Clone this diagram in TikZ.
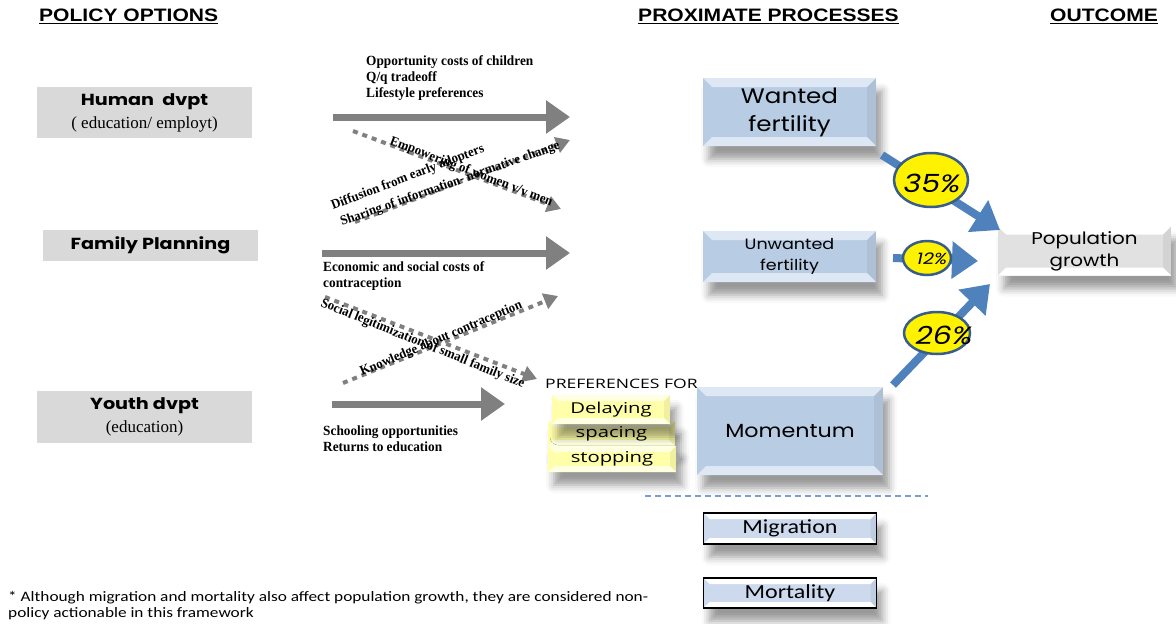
\documentclass[tikz,border=0pt]{standalone}
\usepackage{fontspec}
\setmainfont{Liberation Serif}
\newfontfamily\headfont[FakeStretch=1.17]{Liberation Sans}
\newfontfamily\dispfont[FakeStretch=1.2]{Poppins}
\newfontfamily\condfont[FakeStretch=0.95]{Liberation Serif}
\newfontfamily\gothfont[FakeStretch=1.17]{Poppins}
\newfontfamily\calfont[FakeStretch=1.2]{Carlito}
\newfontfamily\prefont[FakeStretch=1.35]{Open Sans}
\usetikzlibrary{arrows.meta,shapes.geometric,shadows.blur}

\definecolor{polgray}{RGB}{217,217,217}
\definecolor{arrgray}{RGB}{128,128,128}
\definecolor{procblue}{RGB}{184,204,228}
\definecolor{proclight}{RGB}{222,232,245}
\definecolor{migrblue}{RGB}{205,218,238}
\definecolor{growthgray}{RGB}{225,225,225}
\definecolor{arrblue}{RGB}{79,129,189}
\definecolor{pctborder}{RGB}{56,93,138}
\definecolor{prefyellow}{RGB}{255,255,170}
\definecolor{preflight}{RGB}{255,255,225}
\definecolor{dashblue}{RGB}{120,160,210}

\tikzset{
  heading/.style={font=\headfont\bfseries\fontsize{18}{20}\selectfont, anchor=west, inner sep=0pt},
  polbox/.style={fill=polgray, inner sep=0pt, align=center, minimum width=215pt},
  poltitle/.style={font=\dispfont\bfseries\fontsize{16}{18}\selectfont},
  lbl/.style={font=\condfont\bfseries\fontsize{14}{16}\selectfont, align=left, anchor=north west, inner sep=0pt},
  slant/.style={font=\condfont\bfseries\fontsize{13.5}{15}\selectfont, anchor=base west, inner sep=0pt},
  polarrow/.style={draw=arrgray, line width=7pt, -{Triangle[length=24pt,width=32pt]}},
  linkarrow/.style={draw=arrgray, line width=4pt, dash pattern=on 5pt off 5pt, -{Triangle[length=14pt,width=16pt]}},
  pctarrow/.style={draw=arrblue, line width=8pt, -{Triangle[length=26pt,width=36pt]}},
  bevel/.style n args={3}{fill=#1, path picture={
      \fill[#2] (path picture bounding box.north west) -- (path picture bounding box.north east)
        -- ([shift={(-#3,-#3)}]path picture bounding box.north east)
        -- ([shift={(#3,-#3)}]path picture bounding box.north west) -- cycle;
      \fill[#2] (path picture bounding box.south west) -- (path picture bounding box.south east)
        -- ([shift={(-#3,#3)}]path picture bounding box.south east)
        -- ([shift={(#3,#3)}]path picture bounding box.south west) -- cycle;
      \fill[black, opacity=.06] (path picture bounding box.north east) -- (path picture bounding box.south east)
        -- ([shift={(-#3,#3)}]path picture bounding box.south east)
        -- ([shift={(-#3,-#3)}]path picture bounding box.north east) -- cycle;
  }},
  softshadow/.style={blur shadow={shadow xshift=6pt, shadow yshift=-13pt, shadow blur radius=8pt, shadow opacity=40}},
  procbox/.style={bevel={procblue}{proclight}{9pt}, softshadow, inner sep=0pt, align=center},
  prefbox/.style={bevel={prefyellow}{preflight}{6pt}, softshadow, inner sep=0pt,
    font=\prefont\fontsize{15}{17}\selectfont},
  pct/.style={ellipse, fill=yellow, draw=pctborder, line width=2.5pt, inner sep=0pt},
  pcttext/.style={font=\dispfont\itshape\fontsize{25}{27}\selectfont, inner sep=0pt},
  sepline/.style={draw=dashblue, line width=1.3pt, dash pattern=on 6pt off 4pt},
}

\begin{document}
\begin{tikzpicture}[x=1pt,y=-1pt]
  \useasboundingbox (0,0) rectangle (1176,624);

  \node[heading] (h-pol) at (39,16) {\underline{POLICY OPTIONS}};
  \node[heading] (h-prox) at (638,16) {\underline{PROXIMATE PROCESSES}};
  \node[heading] (h-out) at (1050,16) {\underline{OUTCOME}};

  % policy options
  \node[polbox, minimum height=51pt] (human) at (144.5,112.5)
    {{\dispfont\bfseries\fontsize{16}{18}\selectfont Human\ \ dvpt}\\[6pt]
     {\fontsize{17}{18}\selectfont( education/ employt)}};
  \node[polbox, minimum height=31pt, poltitle] (family) at (150.5,245.5) {Family Planning};
  \node[polbox, minimum height=52pt] (youth) at (144.5,417)
    {{\dispfont\bfseries\fontsize{16}{18}\selectfont Youth dvpt}\\[6pt]
     {\fontsize{17}{18}\selectfont(education)}};

  \coordinate (human-s) at (333,117);
  \coordinate (human-e) at (570,117);
  \coordinate (family-s) at (322,253);
  \coordinate (family-e) at (570,253);
  \coordinate (youth-s) at (332,404);
  \coordinate (youth-e) at (505,404);
  \draw[polarrow] (human-s) -- (human-e);
  \draw[polarrow] (family-s) -- (family-e);
  \draw[polarrow] (youth-s) -- (youth-e);

  \node[lbl] (opp) at (366,55) {Opportunity costs of children\\Q/q tradeoff\\Lifestyle preferences};
  \node[lbl] (econ) at (323,261) {Economic and social costs of\\contraception};
  \node[lbl] (school) at (323,426) {Schooling opportunities\\Returns to education};

  % crossing links
  \coordinate (empow-s) at (353,131);
  \coordinate (empow-e) at (561,209);
  \coordinate (diff-s) at (355,222);
  \coordinate (diff-e) at (570,140);
  \coordinate (legit-s) at (325,297);
  \coordinate (legit-e) at (537,379);
  \coordinate (know-s) at (343,383);
  \coordinate (know-e) at (558,296);
  \draw[linkarrow] (empow-s) -- (empow-e);
  \draw[linkarrow] (diff-s) -- (diff-e);
  \draw[linkarrow] (legit-s) -- (legit-e);
  \draw[linkarrow] (know-s) -- (know-e);

  \node[slant, rotate=-21] (empow) at (389,144) {Empowering of women v/v men};
  \node[slant, rotate=21] (diff) at (333,210) {Diffusion from early adopters};
  \node[slant, rotate=19.5] (share) at (342,226) {Sharing of information- normative change};
  \node[slant, rotate=-22] (legit) at (320,306) {Social legitimization of small family size};
  \node[slant, rotate=23] (know) at (362,376) {Knowledge about contraception};

  % proximate processes
  \node[anchor=west, inner sep=0pt, font=\prefont\fontsize{13}{15}\selectfont] (pref) at (545,384) {PREFERENCES FOR};
  \node[prefbox, minimum width=127pt, minimum height=25pt] (space) at (611.5,433.5) {spacing};
  \node[prefbox, minimum width=118pt, minimum height=29pt] (delay) at (611,409.5) {Delaying};
  \node[prefbox, minimum width=128pt, minimum height=26pt] (stop) at (612,459) {stopping};

  \node[procbox, minimum width=173pt, minimum height=68pt, font=\gothfont\fontsize{21}{28}\selectfont] (wanted) at (789.5,112) {Wanted\\fertility};
  \node[procbox, minimum width=173pt, minimum height=51pt, font=\gothfont\fontsize{15}{21}\selectfont] (unwanted) at (789.5,256.5) {Unwanted\\fertility};
  \node[procbox, minimum width=186pt, minimum height=88pt, font=\gothfont\fontsize{19}{22}\selectfont] (momentum) at (790,431) {Momentum};

  % outcome
  \node[bevel={growthgray}{white}{8pt}, softshadow, inner sep=0pt, align=center, minimum width=173pt, minimum height=49pt,
    font=\gothfont\fontsize{17}{22}\selectfont] (growth) at (1084.5,251) {Population\\growth};

  \coordinate (wanted-a) at (882,155);
  \coordinate (wanted-b) at (1000,230);
  \coordinate (unwanted-a) at (893,258);
  \coordinate (unwanted-b) at (978,261);
  \coordinate (momentum-a) at (893,385);
  \coordinate (momentum-b) at (990,284);
  \draw[pctarrow] (wanted-a) -- (wanted-b);
  \draw[pctarrow] (unwanted-a) -- (unwanted-b);
  \draw[pctarrow] (momentum-a) -- (momentum-b);

  \node[pct, minimum width=74pt, minimum height=54pt] (p35) at (931,180) {};
  \node[pct, minimum width=48pt, minimum height=34pt] (p12) at (927,258) {};
  \node[pct, minimum width=66pt, minimum height=42pt] (p26) at (937,333) {};
  \node[pcttext] (t35) at (932,183) {35\%};
  \node[pcttext, font=\dispfont\itshape\fontsize{16}{18}\selectfont] (t12) at (932,259) {12\%};
  \node[pcttext] (t26) at (944,335) {26\%};

  % not policy actionable
  \coordinate (sep-w) at (645,496);
  \coordinate (sep-e) at (928,496);
  \draw[sepline] (sep-w) -- (sep-e);

  \node[bevel={migrblue}{white}{6pt}, softshadow, draw=black, line width=1.2pt, inner sep=0pt,
    minimum width=173pt, minimum height=31pt, font=\calfont\fontsize{20}{22}\selectfont] (migr) at (790,528.5) {Migration};
  \node[bevel={migrblue}{white}{6pt}, softshadow, draw=black, line width=1.2pt, inner sep=0pt,
    minimum width=173pt, minimum height=30pt, font=\calfont\fontsize{20}{22}\selectfont] (mort) at (790,593) {Mortality};

  \node[anchor=north west, inner sep=0pt, align=left, font=\calfont\fontsize{14.4}{16}\selectfont] (note) at (8,591)
    {* Although migration and mortality also affect population growth, they are considered non-\\policy actionable in this framework};
\end{tikzpicture}
\end{document}
